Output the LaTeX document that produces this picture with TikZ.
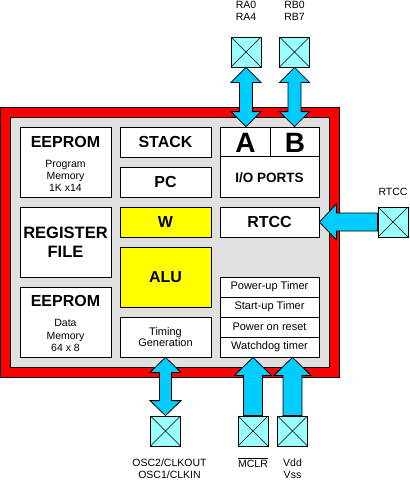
\documentclass[tikz,border=0pt]{standalone}
\usepackage{fontspec}
\setmainfont{Liberation Sans}
\usetikzlibrary{calc}
\definecolor{framered}{RGB}{255,0,0}
\definecolor{chipgray}{RGB}{224,224,224}
\definecolor{regyellow}{RGB}{255,255,0}
\definecolor{arrowblue}{RGB}{0,204,255}
\definecolor{pincyan}{RGB}{153,255,255}
\newcommand\fs[2]{\fontsize{#1}{#2}\selectfont}
% vertical double block arrow: #1 top tip, #2 bottom tip, #3 head half width, #4 shaft half width, #5 head length
\newcommand\blkdbl[5]{%
  \draw[barrow] let \p1=(#1), \p2=(#2) in
    (\x1,\y1) -- (\x1+#3,\y1-#5) -- (\x1+#4,\y1-#5) -- (\x1+#4,\y2+#5) -- (\x1+#3,\y2+#5)
    -- (\x1,\y2) -- (\x1-#3,\y2+#5) -- (\x1-#4,\y2+#5) -- (\x1-#4,\y1-#5) -- (\x1-#3,\y1-#5) -- cycle;}
% upward block arrow: #1 tip, #2 tail
\newcommand\blkup[5]{%
  \draw[barrow] let \p1=(#1), \p2=(#2) in
    (\x1,\y1) -- (\x1+#3,\y1-#5) -- (\x1+#4,\y1-#5) -- (\x1+#4,\y2) -- (\x1-#4,\y2)
    -- (\x1-#4,\y1-#5) -- (\x1-#3,\y1-#5) -- cycle;}
% leftward block arrow: #1 tip, #2 tail
\newcommand\blkleft[5]{%
  \draw[barrow] let \p1=(#1), \p2=(#2) in
    (\x1,\y1) -- (\x1+#5,\y1+#3) -- (\x1+#5,\y1+#4) -- (\x2,\y1+#4) -- (\x2,\y1-#4)
    -- (\x1+#5,\y1-#4) -- (\x1+#5,\y1-#3) -- cycle;}
\tikzset{
  blk/.style={draw=black, fill=white, line width=0.8pt, inner sep=0pt, align=center},
  title/.style={font=\fs{16}{19}\bfseries, inner sep=0pt, align=center},
  small/.style={font=\fs{10.5}{12}, inner sep=0pt, align=center},
  timer/.style={blk, minimum width=99pt, minimum height=20pt, font=\fs{11}{13}},
  barrow/.style={draw=black, fill=arrowblue, line width=0.8pt, line join=miter},
  pinbox/.style={draw=black, fill=pincyan, line width=0.8pt, minimum size=30pt, inner sep=0pt,
    path picture={\draw[line width=0.6pt] (path picture bounding box.north west) -- (path picture bounding box.south east)
      (path picture bounding box.north east) -- (path picture bounding box.south west);}},
  pinlbl/.style={font=\fs{10.5}{12}, inner sep=0pt, align=center},
}
\begin{document}
\begin{tikzpicture}[x=1pt,y=-1pt]
\useasboundingbox (0,0) rectangle (410,480);
% chip frame
\draw[fill=framered, line width=0.8pt] (0.5,107.5) rectangle (339.5,377.5);
\draw[fill=chipgray, line width=0.8pt] (10.5,117.5) rectangle (329.5,367.5);
% left column
\node[blk, minimum width=91pt, minimum height=70pt] (prog) at (65.5,162) {};
\node[title] (progt) at (65.5,142) {EEPROM};
\node[small] (progs) at (65.5,176) {Program\\Memory\\1K x14};
\node[blk, minimum width=91pt, minimum height=70pt, font=\fs{16.5}{19}\bfseries] (reg) at (65.5,242) {REGISTER\\FILE};
\node[blk, minimum width=91pt, minimum height=70pt] (data) at (65.5,322) {};
\node[title] (datat) at (65.5,301) {EEPROM};
\node[small, font=\fs{10.5}{12.5}] (datas) at (65.5,335.5) {Data\\Memory\\64 x 8};
% middle column
\node[blk, minimum width=91pt, minimum height=30pt, font=\fs{16}{19}\bfseries] (stack) at (165.5,142) {STACK};
\node[blk, minimum width=91pt, minimum height=30pt, font=\fs{16}{19}\bfseries] (pc) at (165.5,182) {PC};
\node[blk, fill=regyellow, minimum width=91pt, minimum height=30pt, font=\fs{16}{19}\bfseries] (w) at (165.5,222) {W};
\node[blk, fill=regyellow, minimum width=91pt, minimum height=60pt, font=\fs{16}{19}\bfseries] (alu) at (165.5,277) {ALU};
\node[blk, minimum width=91pt, minimum height=40pt, font=\fs{11}{11.5}] (timing) at (165.5,337) {Timing\\Generation};
% right column
\node[blk, minimum width=99pt, minimum height=70pt] (io) at (269.5,162) {};
\draw[line width=0.8pt] ($(io.north west)+(0,-30pt)$) -- ($(io.north east)+(0,-30pt)$);
\draw[line width=0.8pt] ($(io.north west)+(51pt,0)$) -- ++(0,-30pt);
\node[font=\fs{28}{30}\bfseries, inner sep=0pt] (porta) at (245.5,143) {A};
\node[font=\fs{28}{30}\bfseries, inner sep=0pt] (portb) at (295,143) {B};
\node[font=\fs{13.5}{15}\bfseries, inner sep=0pt] (iot) at (269.5,178) {I/O PORTS};
\node[blk, minimum width=99pt, minimum height=30pt, font=\fs{16}{19}\bfseries] (rtcc) at (269.5,222) {RTCC};
\node[timer] (t1) at (269.5,287) {Power-up Timer};
\node[timer] (t2) at (269.5,307) {Start-up Timer};
\node[timer] (t3) at (269.5,327) {Power on reset};
\node[timer] (t4) at (269.5,347) {Watchdog timer};
% pins
\node[pinbox] (ra) at (246,52) {};
\node[pinbox] (rb) at (294.5,52) {};
\node[pinbox] (rtccpin) at (393,222) {};
\node[pinbox] (osc) at (165.5,431) {};
\node[pinbox] (mclr) at (253,431) {};
\node[pinbox] (vdd) at (292.5,431) {};
% block arrows
\blkdbl{ra.south}{ra.south |- io.north}{15pt}{6.5pt}{15pt}
\blkdbl{rb.south}{rb.south |- io.north}{15pt}{6.5pt}{15pt}
\blkdbl{osc.north |- timing.south}{osc.north}{15.5pt}{6pt}{15pt}
\blkup{mclr.north |- t4.south}{mclr.north}{18.5pt}{9.5pt}{18pt}
\blkup{vdd.north |- t4.south}{vdd.north}{18.5pt}{9.5pt}{18pt}
\blkleft{rtcc.east}{rtccpin.west}{18pt}{9pt}{17pt}
% pin labels
\node[pinlbl] (ralbl) at (246,10.5) {RA0\\RA4};
\node[pinlbl] (rblbl) at (294.5,10.5) {RB0\\RB7};
\node[pinlbl] (rtcclbl) at (393,192) {RTCC};
\node[pinlbl] (osclbl) at (169.5,469) {OSC2/CLKOUT\\OSC1/CLKIN};
\node[pinlbl, anchor=base] (mclrlbl) at (253,467) {$\overline{\hbox{MCLR}}$};
\node[pinlbl] (vddlbl) at (292.5,469) {Vdd\\Vss};
\end{tikzpicture}
\end{document}
